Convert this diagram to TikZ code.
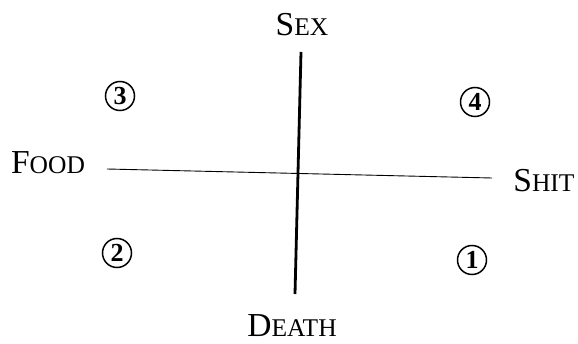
\documentclass[tikz,border=0pt]{standalone}
\usepackage{fontspec}
\setmainfont{Liberation Serif}
\usepackage{tikz}
\usetikzlibrary{positioning}

% Kapitälchen von Hand: großer Anfangsbuchstabe, Rest kleiner
\newcommand{\capsword}[2]{#1{\fontsize{25.5}{28}\selectfont #2}}

\begin{document}
\begin{tikzpicture}[
    x=1pt, y=-1pt,
    axislabel/.style={inner sep=0pt, font=\fontsize{33.5}{36}\selectfont},
    quadrant/.style={circle, draw, line width=1.5pt, inner sep=0pt, minimum size=29pt, font=\fontsize{26}{28}\selectfont\bfseries},
    vaxis/.style={line width=2.8pt},
    haxis/.style={line width=0.9pt}
]
    \useasboundingbox (0,0) rectangle (578,344);

    % Beschriftungen der Achsen
    \node[axislabel] (sex) at (302,25) {\capsword{S}{EX}};
    \node[axislabel] (death) at (292,326) {\capsword{D}{EATH}};
    \node[axislabel] (food) at (48,163) {\capsword{F}{OOD}};
    \node[axislabel] (shit) at (544,181) {\capsword{S}{HIT}};

    % Endpunkte der Achsen
    \coordinate (vtop) at (301,52);
    \coordinate (vbot) at (295,294);
    \coordinate (hleft) at (107,169);
    \coordinate (hright) at (492,178);

    \draw[vaxis] (vtop) -- (vbot);
    \draw[haxis] (hleft) -- (hright);

    % Quadranten
    \node[quadrant] (q3) at (120,96) {3};
    \node[quadrant] (q4) at (475,102) {4};
    \node[quadrant] (q2) at (117,253) {2};
    \node[quadrant] (q1) at (472,260) {1};
\end{tikzpicture}
\end{document}
